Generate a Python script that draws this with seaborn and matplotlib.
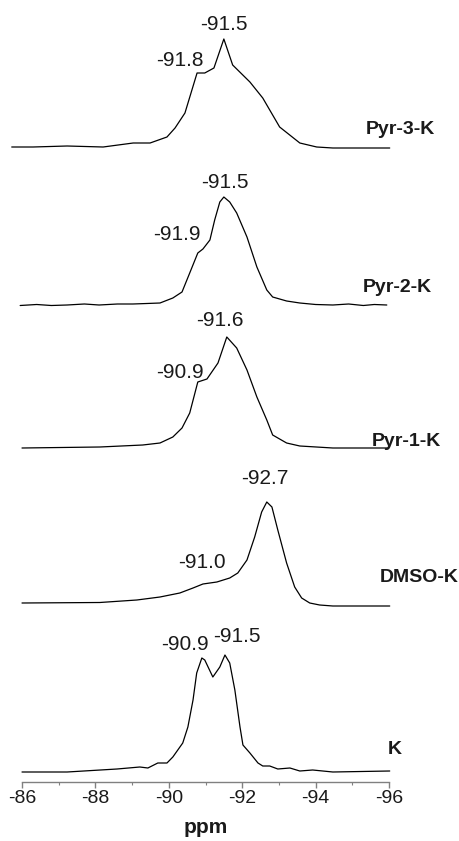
import matplotlib
matplotlib.use("Agg")
import matplotlib.pyplot as plt
import matplotlib.ticker as ticker
import seaborn as sns
import pandas as pd

# Spectra (ppm, intensity above own baseline)
pyr3_ppm = [-85.72, -86.30, -87.23, -88.21, -89.03, -89.49, -89.95, -90.17, -90.44, -90.77,
            -90.98, -91.23, -91.50, -91.74, -92.21, -92.56, -93.02, -93.57, -94.03, -94.47, -96.02]
pyr3_int = [1, 1, 2, 1, 5, 5, 11, 20, 35, 75, 75, 80, 109, 83, 66, 50, 21, 5, 1, 0, 0]

pyr2_ppm = [-85.95, -86.40, -86.80, -87.23, -87.70, -88.10, -88.60, -89.02, -89.40, -89.76,
            -90.11, -90.36, -90.57, -90.79, -90.93, -91.12, -91.25, -91.39, -91.50, -91.66,
            -91.85, -92.13, -92.40, -92.67, -92.83, -93.21, -93.57, -94.00, -94.47, -94.90,
            -95.30, -95.60, -95.94]
pyr2_int = [0, 1, 0, 0.5, 1.5, 0.5, 1.5, 1.5, 2, 2.5,
            7.5, 13.5, 32.5, 52.5, 56.5, 65.5, 85.5, 103.5, 108.5, 103.5,
            92.5, 68.5, 38.5, 15.5, 8.5, 4.5, 2.5, 1, 0.5, 1.5,
            0, 1, 0.5]

pyr1_ppm = [-86.00, -88.12, -89.29, -89.76, -90.11, -90.36, -90.57, -90.79, -91.04, -91.34,
            -91.58, -91.85, -92.13, -92.40, -92.67, -92.83, -93.21, -93.57, -94.47, -95.96]
pyr1_int = [0, 1, 3, 5, 11, 20, 35, 66, 69, 85, 111, 100, 78, 51, 28, 13, 5, 2, 0, 0]

dmso_ppm = [-86.00, -88.12, -89.13, -89.76, -90.30, -90.66, -90.93, -91.31, -91.66, -91.88,
            -92.13, -92.34, -92.53, -92.67, -92.81, -92.97, -93.21, -93.43, -93.62, -93.84,
            -94.11, -94.47, -96.02]
dmso_int = [3, 3.5, 6, 9, 13, 18, 22, 24, 28, 33,
            46, 69, 94, 104, 99, 76, 43, 19, 8, 3,
            1, 0, 0]

k_ppm = [-86.00, -87.23, -88.59, -89.21, -89.43, -89.70, -89.95, -90.11, -90.38, -90.52,
         -90.66, -90.76, -90.90, -90.98, -91.20, -91.39, -91.53, -91.66, -91.80, -91.94,
         -92.02, -92.21, -92.43, -92.56, -92.75, -92.97, -93.30, -93.57, -93.92, -94.47, -96.02]
k_int = [0, 0, 3, 5, 4, 9, 9, 15, 29, 45,
         72, 99, 114, 112, 95, 105, 117, 109, 82, 45,
         27, 19, 9, 6, 6, 3, 4, 1, 2, 0, 1]

amostras = ["Pyr-3-K", "Pyr-2-K", "Pyr-1-K", "DMSO-K", "K"]
picos = [["-91.5", "-91.8"], ["-91.5", "-91.9"], ["-91.6", "-90.9"], ["-92.7", "-91.0"], ["-90.9", "-91.5"]]

# Layout (baseline of each trace, label positions) -- pixel-like units from top
baselines = [148, 305.5, 448, 606, 772]
pos_picos = [[(-91.50, 25), (-90.30, 61)],
             [(-91.53, 182), (-90.22, 235)],
             [(-91.39, 321), (-90.30, 372)],
             [(-92.62, 478), (-90.90, 562)],
             [(-90.44, 645), (-91.85, 637)]]
pos_amostras = [(-96.32, 130), (-96.22, 288), (-96.48, 442), (-96.81, 578), (-96.16, 750)]

sns.set_theme(style="white")
plt.rcParams["font.family"] = ["Liberation Sans", "DejaVu Sans"]

fig = plt.figure(figsize=(4.59, 8.41), dpi=100)
ax = fig.add_axes([22 / 459, 59 / 841, 367 / 459, 782 / 841])

espectros = [(pyr3_ppm, pyr3_int), (pyr2_ppm, pyr2_int), (pyr1_ppm, pyr1_int),
             (dmso_ppm, dmso_int), (k_ppm, k_int)]

for i, (ppm, inten) in enumerate(espectros):
    df = pd.DataFrame({"ppm": ppm, "y": [baselines[i] - v for v in inten]})
    sns.lineplot(data=df, x="ppm", y="y", ax=ax, color="black",
                 linewidth=0.9, clip_on=False)
    for txt, (px, py) in zip(picos[i], pos_picos[i]):
        ax.text(px, py, txt, fontsize=15, ha="center", va="center", color="#1a1a1a")
    ax.text(pos_amostras[i][0], pos_amostras[i][1], amostras[i], fontsize=14,
            fontweight="bold", ha="center", va="center", color="#1a1a1a", clip_on=False)

ax.set_xlim(-86, -96)
ax.set_ylim(782, 0)

for s in ["top", "right", "left"]:
    ax.spines[s].set_visible(False)
ax.spines["bottom"].set_color("#808080")
ax.spines["bottom"].set_linewidth(1.0)

ax.xaxis.set_major_locator(ticker.MultipleLocator(2))
ax.xaxis.set_minor_locator(ticker.MultipleLocator(1))
ax.xaxis.set_major_formatter(ticker.FuncFormatter(lambda v, p: f"{v:.0f}".replace("\u2212", "-")))
ax.tick_params(axis="x", which="major", bottom=True, length=4, width=1.0,
               color="#808080", labelsize=14, labelcolor="#1a1a1a", pad=2, direction="out")
ax.tick_params(axis="x", which="minor", bottom=True, length=2.5, width=0.8,
               color="#808080", direction="out")
ax.set_yticks([])
ax.set_ylabel("")
ax.set_xlabel("ppm", fontsize=15, fontweight="bold", color="#1a1a1a", labelpad=8)

fig.savefig("out.png", dpi=100, facecolor="white")
